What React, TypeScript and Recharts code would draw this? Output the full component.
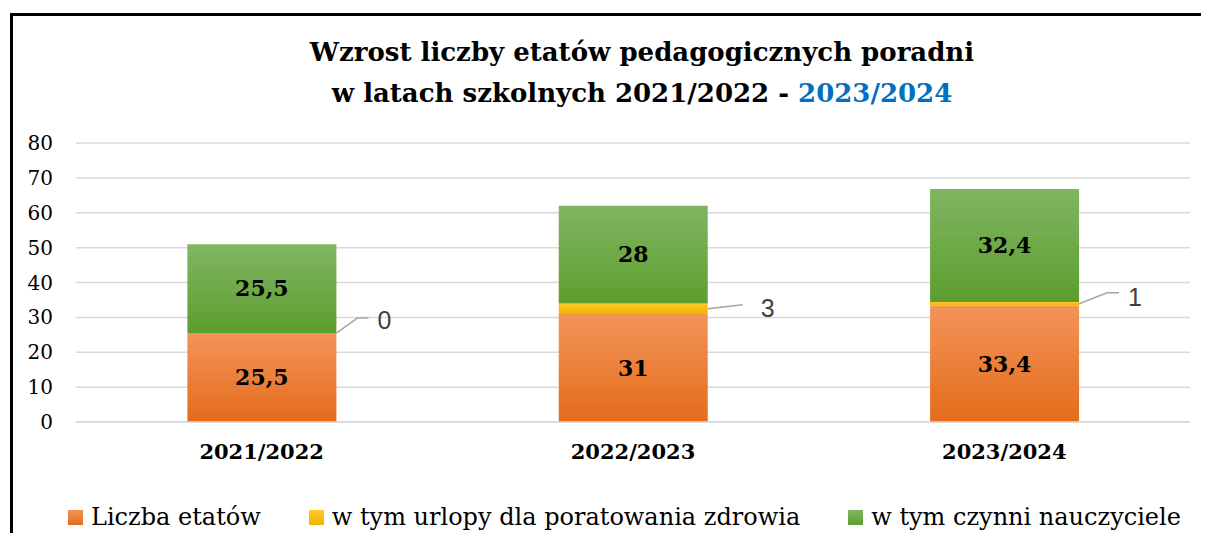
import React from "react";
import {
  BarChart,
  Bar,
  XAxis,
  YAxis,
  CartesianGrid,
  LabelList,
} from "recharts";

const years = ["2021/2022", "2022/2023", "2023/2024"];
const etaty = [25.5, 31, 33.4];
const urlopy = [0, 3, 1];
const czynni = [25.5, 28, 32.4];
const yTicks = [0, 10, 20, 30, 40, 50, 60, 70, 80];

const seriesNames = [
  "Liczba etatów",
  "w tym urlopy dla poratowania zdrowia",
  "w tym czynni nauczyciele",
];

const data = years.map((name, i) => ({
  name,
  etaty: etaty[i],
  urlopy: urlopy[i],
  czynni: czynni[i],
}));

// where the little grey leader line + label go for the yellow segment
const leaderOffsets = [
  { ex: 21, ey: -15, lx: 32, tx: 41, ty: -13 },
  { ex: 35, ey: -4, lx: 35, tx: 53, ty: -1 },
  { ex: 28, ey: -11, lx: 40, tx: 49, ty: -7 },
];

const serif = "'DejaVu Serif', serif";
const fmt = (v: any) => String(v).replace(".", ",");

// drawn from the orange bar, since a 0-high yellow bar gets no label
const LeaderLabel = (props: any) => {
  const { x, y, width, height, index } = props;
  const o = leaderOffsets[index] || leaderOffsets[0];
  const perUnit = height / etaty[index];
  const sx = x + width;
  const sy = y - (perUnit * urlopy[index]) / 2;
  return (
    <g>
      <polyline
        points={`${sx},${sy} ${sx + o.ex},${sy + o.ey} ${sx + o.lx},${sy + o.ey}`}
        fill="none"
        stroke="#A6A6A6"
        strokeWidth={1.5}
      />
      <text
        x={sx + o.tx}
        y={sy + o.ty}
        dominantBaseline="central"
        fontFamily="'Liberation Sans', sans-serif"
        fontSize={25}
        fill="#404040"
      >
        {urlopy[index]}
      </text>
    </g>
  );
};

const legendSwatch = [
  ["#F39459", "#E46C1B"],
  ["#FFC928", "#F0B400"],
  ["#80B662", "#5C9E2E"],
];

const labelStyle = { fontFamily: serif, fontWeight: "bold", fontSize: 22, fill: "#000" };

export default function App() {
  return (
    <div style={{ position: "relative", width: 1201, height: 525, overflow: "hidden", background: "#fff" }}>
      <div
        style={{
          position: "absolute",
          left: 2,
          top: 5,
          width: 1300,
          height: 700,
          border: "3px solid #000",
        }}
      />
      <div
        style={{
          position: "absolute",
          left: 0,
          width: 1268,
          top: 24,
          textAlign: "center",
          fontFamily: serif,
          fontWeight: "bold",
          fontSize: 26,
          lineHeight: "41px",
          color: "#000",
        }}
      >
        Wzrost liczby etatów pedagogicznych poradni
        <br />
        w latach szkolnych 2021/2022 - <span style={{ color: "#0070C0" }}>2023/2024</span>
      </div>
      <BarChart
        width={1201}
        height={525}
        data={data}
        barCategoryGap="30%"
        margin={{ top: 135, right: 19, left: 0, bottom: 71 }}
        style={{ position: "absolute", left: 0, top: 0 }}
      >
        <defs>
          <linearGradient id="gOrange" x1="0" y1="0" x2="0" y2="1">
            <stop offset="0%" stopColor="#F39459" />
            <stop offset="100%" stopColor="#E46C1B" />
          </linearGradient>
          <linearGradient id="gYellow" x1="0" y1="0" x2="0" y2="1">
            <stop offset="0%" stopColor="#FFC928" />
            <stop offset="100%" stopColor="#F0B400" />
          </linearGradient>
          <linearGradient id="gGreen" x1="0" y1="0" x2="0" y2="1">
            <stop offset="0%" stopColor="#80B662" />
            <stop offset="100%" stopColor="#5C9E2E" />
          </linearGradient>
        </defs>
        <CartesianGrid vertical={false} stroke="#D9D9D9" strokeWidth={1.5} />
        <XAxis
          dataKey="name"
          height={40}
          tickLine={false}
          tickSize={0}
          tickMargin={22}
          axisLine={{ stroke: "#D9D9D9", strokeWidth: 1.5 }}
          tick={{ fontFamily: serif, fontWeight: "bold", fontSize: 21, fill: "#000" }}
        />
        <YAxis
          width={68}
          domain={[0, 80]}
          ticks={yTicks}
          axisLine={false}
          tickLine={false}
          tickSize={0}
          tickMargin={23}
          tick={{ fontFamily: serif, fontSize: 20, fill: "#000" }}
        />
        <Bar dataKey="etaty" name={seriesNames[0]} stackId="a" fill="url(#gOrange)" isAnimationActive={false}>
          <LabelList dataKey="etaty" position="center" formatter={fmt} style={labelStyle} />
          <LabelList dataKey="etaty" content={<LeaderLabel />} />
        </Bar>
        <Bar dataKey="urlopy" name={seriesNames[1]} stackId="a" fill="url(#gYellow)" isAnimationActive={false} />
        <Bar dataKey="czynni" name={seriesNames[2]} stackId="a" fill="url(#gGreen)" isAnimationActive={false}>
          <LabelList dataKey="czynni" position="center" formatter={fmt} style={labelStyle} />
        </Bar>
      </BarChart>
      <div
        style={{
          position: "absolute",
          top: 495,
          left: 60,
          display: "flex",
          gap: 48,
          fontFamily: serif,
          fontSize: 24,
          lineHeight: "28px",
          color: "#000",
        }}
      >
        {seriesNames.map((n, i) => (
          <div key={n} style={{ display: "flex", alignItems: "center", whiteSpace: "nowrap" }}>
            <span
              style={{
                width: 15,
                height: 15,
                marginRight: 8,
                background: `linear-gradient(${legendSwatch[i][0]}, ${legendSwatch[i][1]})`,
                display: "inline-block",
              }}
            />
            {n}
          </div>
        ))}
      </div>
    </div>
  );
}
